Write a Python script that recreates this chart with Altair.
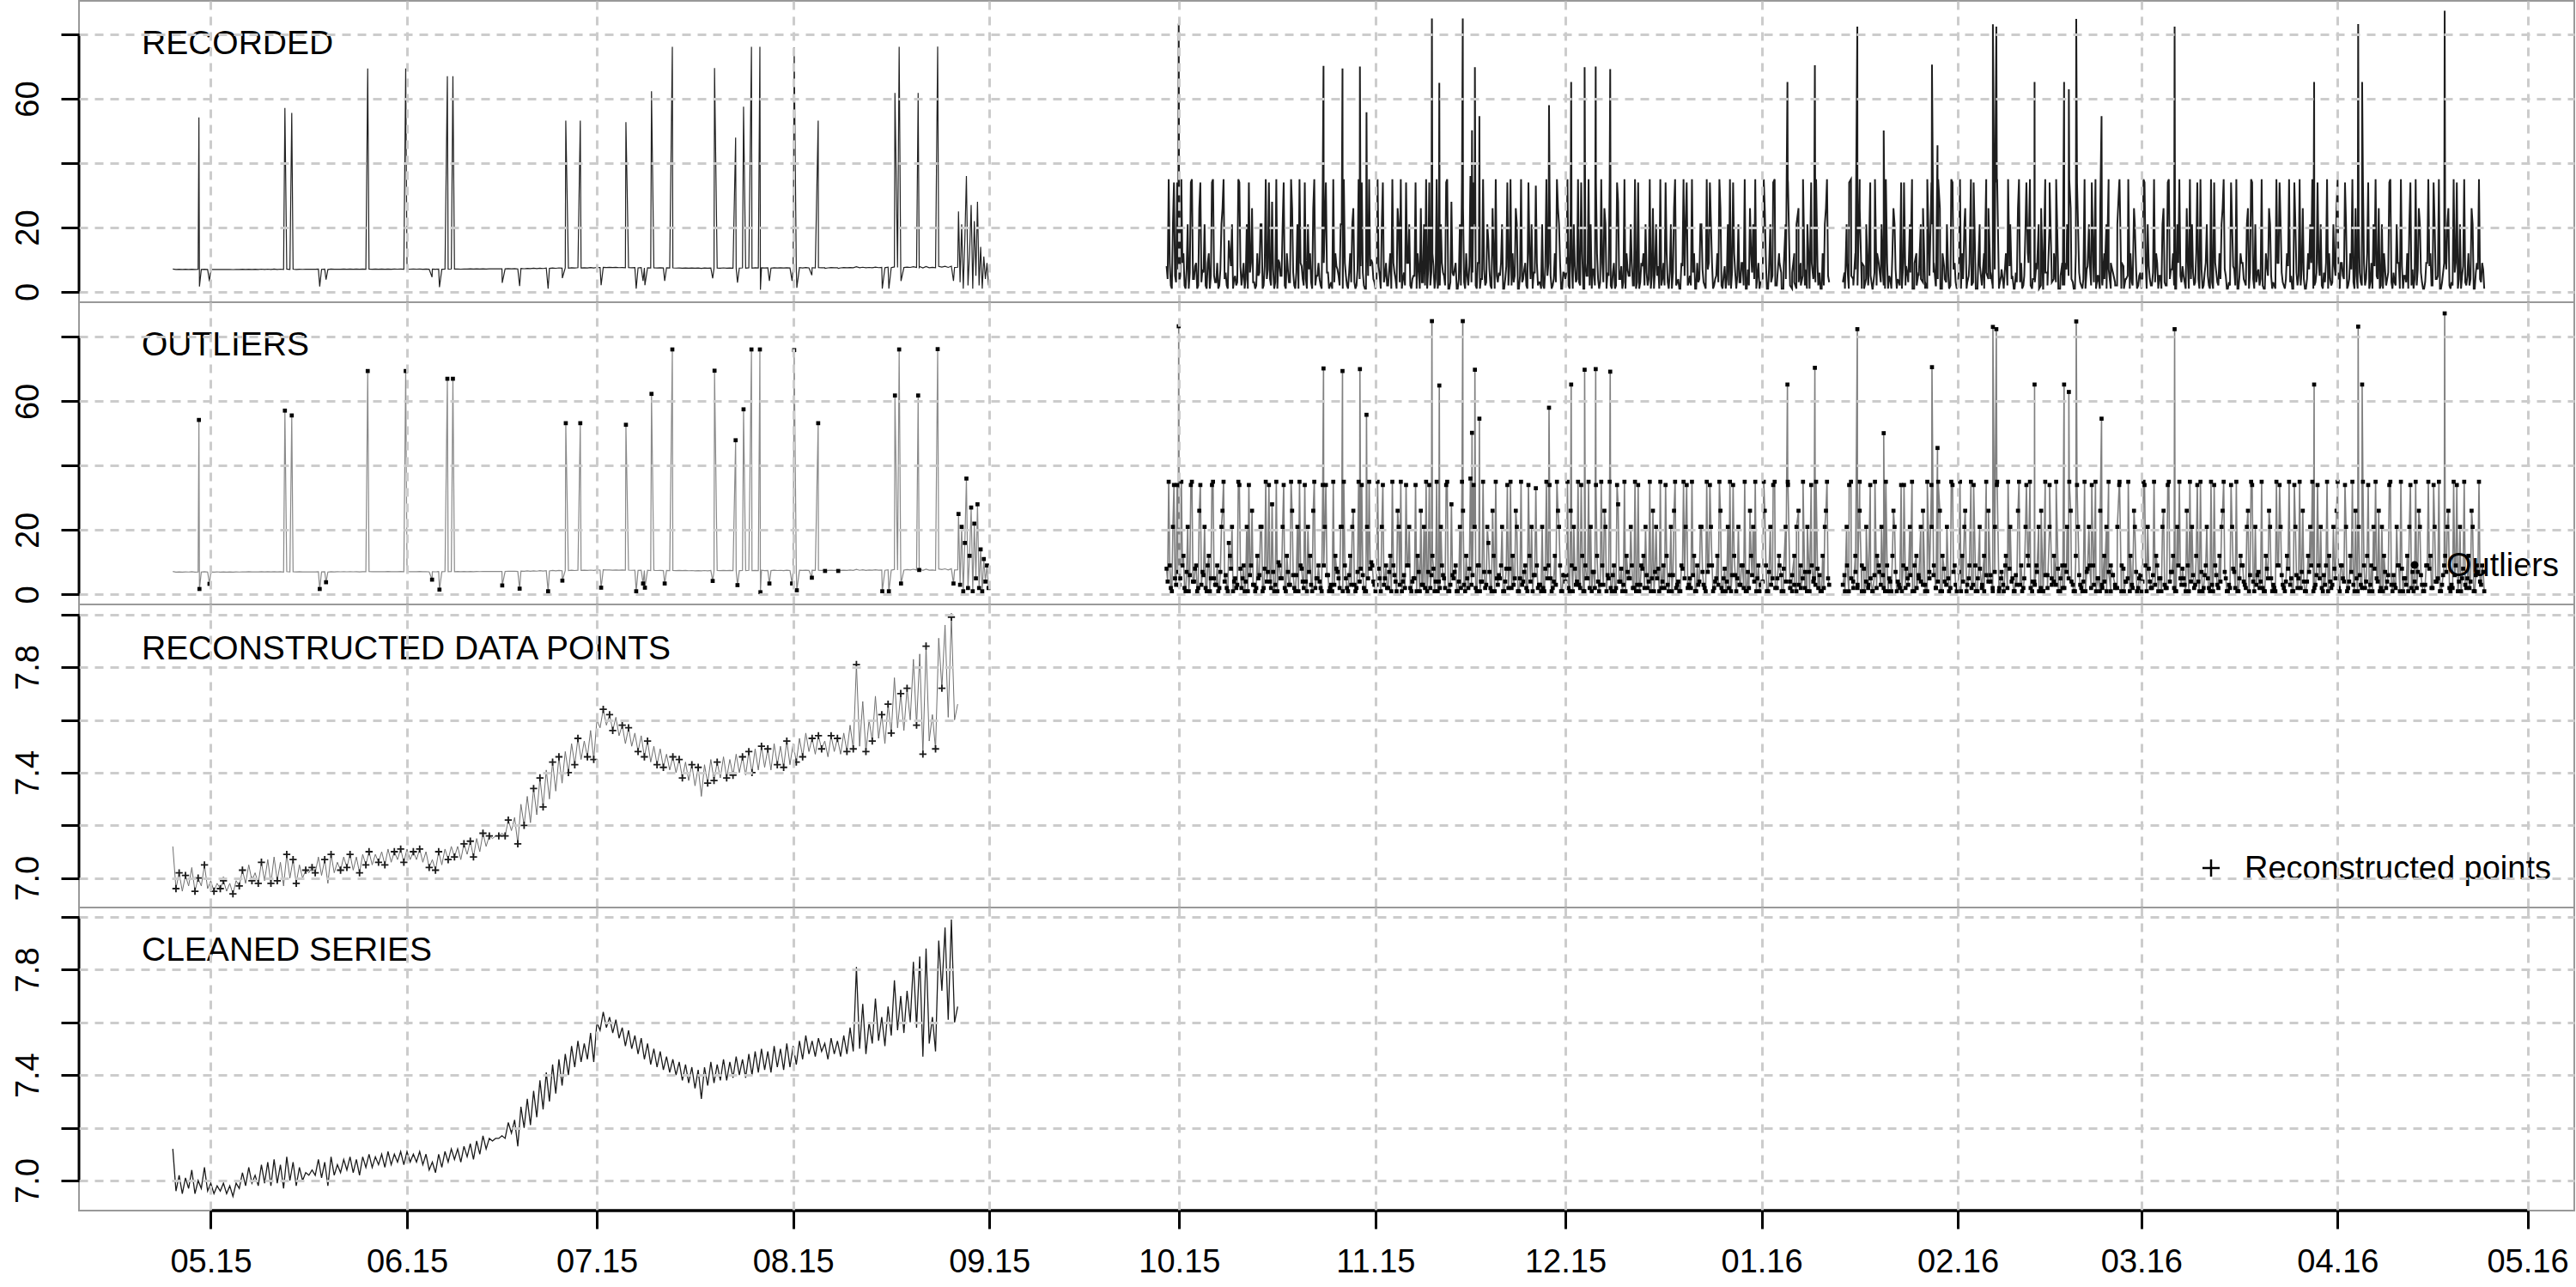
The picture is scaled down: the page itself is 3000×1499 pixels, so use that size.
import json
import altair as alt
import pandas as pd

FONT = "Liberation Sans"

# ---------------- data ----------------
month_ticks = ["2015-05-01", "2015-06-01", "2015-07-01", "2015-08-01", "2015-09-01",
               "2015-10-01", "2015-11-01", "2015-12-01", "2016-01-01", "2016-02-01",
               "2016-03-01", "2016-04-01", "2016-05-01"]
x_range = ["2015-04-10 04:18", "2016-05-08 09:22"]

y_ticks_big = [0, 20, 40, 60, 80]
y_labels_big = [0, 20, 60]
y_ticks_small = [7.0, 7.2, 7.4, 7.6, 7.8, 8.0]
y_labels_small = [7.0, 7.4, 7.8]
y_range_1 = [-3.2, 90.4]
y_range_2 = [-3.1, 90.77]
y_range_3 = [6.8883, 8.0381]
y_range_4 = [6.886, 8.0358]

panel_titles = ["RECORDED", "OUTLIERS", "RECONSTRUCTED DATA POINTS", "CLEANED SERIES"]
legend_outliers = ["Outliers"]
legend_recon = ["Reconstructed points"]

# cleaned series, two readings per day
clean_apr = [7.12, 6.96, 7.02, 6.95, 7.01, 6.97, 7.04, 6.95, 7.00, 6.97, 7.05, 6.96]
clean_may = [6.99, 6.95, 6.98, 6.96, 6.99, 6.95, 6.98, 6.94, 6.99, 6.97, 7.03, 6.98,
             7.05, 6.99, 7.02, 6.98, 7.06, 6.99, 7.07, 6.98, 7.08, 6.99, 7.06, 6.97,
             7.09, 7.00, 7.07, 6.98, 7.05, 7.00, 7.03, 7.02, 7.04, 7.02, 7.08, 7.01,
             7.07, 6.98, 7.09, 7.02, 7.06, 7.03, 7.08, 7.04, 7.09, 7.03, 7.08, 7.02,
             7.09, 7.05, 7.10, 7.05, 7.09, 7.06, 7.10, 7.05, 7.11, 7.06, 7.10, 7.07,
             7.11, 7.06]
clean_jun = [7.11, 7.07, 7.10, 7.07, 7.11, 7.06, 7.10, 7.04, 7.07, 7.03, 7.10, 7.05,
             7.11, 7.07, 7.12, 7.08, 7.12, 7.07, 7.13, 7.09, 7.14, 7.08, 7.15, 7.10,
             7.17, 7.12, 7.16, 7.15, 7.16, 7.16, 7.17, 7.16, 7.22, 7.18, 7.23, 7.13,
             7.28, 7.20, 7.31, 7.21, 7.34, 7.24, 7.38, 7.27, 7.41, 7.30, 7.44, 7.33,
             7.46, 7.36, 7.48, 7.40, 7.51, 7.43, 7.53, 7.45, 7.52, 7.46, 7.56, 7.45]
clean_jul = [7.60, 7.57, 7.64, 7.58, 7.62, 7.56, 7.61, 7.54, 7.58, 7.51, 7.57, 7.50,
             7.55, 7.48, 7.54, 7.46, 7.52, 7.44, 7.50, 7.43, 7.49, 7.42, 7.47, 7.41,
             7.46, 7.40, 7.45, 7.38, 7.44, 7.37, 7.43, 7.35, 7.42, 7.31, 7.43, 7.36,
             7.45, 7.37, 7.44, 7.38, 7.46, 7.38, 7.45, 7.39, 7.47, 7.40, 7.46, 7.39,
             7.48, 7.40, 7.49, 7.41, 7.50, 7.42, 7.49, 7.41, 7.51, 7.43, 7.50, 7.42,
             7.52, 7.43]
clean_aug = [7.51, 7.44, 7.53, 7.46, 7.55, 7.48, 7.53, 7.47, 7.54, 7.49, 7.52, 7.46,
             7.54, 7.48, 7.53, 7.47, 7.55, 7.48, 7.58, 7.49, 7.81, 7.50, 7.67, 7.48,
             7.60, 7.52, 7.69, 7.53, 7.62, 7.51, 7.66, 7.55, 7.76, 7.57, 7.70, 7.56,
             7.72, 7.60, 7.83, 7.58, 7.85, 7.47, 7.88, 7.52, 7.62, 7.49, 7.91, 7.72,
             7.96, 7.61, 7.99, 7.60, 7.66]
clean_spans = [("2015-04-25", "2015-05-01"), ("2015-05-01", "2015-06-01"),
               ("2015-06-01", "2015-07-01"), ("2015-07-01", "2015-08-01"),
               ("2015-08-01", "2015-08-27 12:00")]

recon_idx = [1, 2, 4, 7, 8, 10, 13, 15, 16, 19, 21, 22, 25, 27, 28, 31, 33, 36, 38, 39,
             42, 44, 45, 48, 50, 53, 55, 56, 59, 61, 62, 65, 67, 70, 72, 73, 76, 78, 81,
             83, 84, 87, 89, 92, 94, 95, 98, 100, 103, 105, 106, 109, 111, 114, 116, 117,
             120, 122, 125, 127, 128, 131, 133, 136, 138, 139, 142, 144, 147, 149, 150,
             153, 155, 158, 160, 161, 164, 166, 169, 171, 172, 175, 177, 180, 182, 183,
             186, 188, 191, 193, 194, 197, 199, 202, 204, 205, 208, 210, 213, 215, 216,
             219, 221, 224, 226, 227, 230, 232, 235, 237, 238, 241, 243, 246]

early_spike_times = [
    "2015-04-29 03:00", "2015-04-29 05:00", "2015-04-30 19:00", "2015-05-12 17:00",
    "2015-05-13 19:00", "2015-05-18 05:00", "2015-05-19 05:00", "2015-05-25 19:00",
    "2015-05-31 19:00", "2015-06-04 23:00", "2015-06-06 03:00", "2015-06-07 09:00",
    "2015-06-08 06:00", "2015-06-16 01:00", "2015-06-18 19:00", "2015-06-23 07:00",
    "2015-06-25 13:00", "2015-06-26 02:00", "2015-06-28 09:00", "2015-07-01 16:00",
    "2015-07-05 14:00", "2015-07-07 05:00", "2015-07-08 07:00", "2015-07-08 14:00",
    "2015-07-09 15:00", "2015-07-11 17:00", "2015-07-12 22:00", "2015-07-19 07:00",
    "2015-07-19 14:00", "2015-07-22 22:00", "2015-07-23 05:00", "2015-07-24 04:00",
    "2015-07-25 10:00", "2015-07-26 18:00", "2015-07-26 20:00", "2015-07-28 06:00",
    "2015-07-31 20:00", "2015-08-01 04:00", "2015-08-01 14:00", "2015-08-03 23:00",
    "2015-08-04 23:00", "2015-08-06 01:00", "2015-08-08 03:00", "2015-08-15 02:00",
    "2015-08-16 03:00", "2015-08-17 02:00", "2015-08-17 18:00", "2015-08-18 01:00",
    "2015-08-20 18:00", "2015-08-20 22:00", "2015-08-23 20:00", "2015-08-26 08:00"]
early_spike_vals = [
    54.2, 1.7, 3.3, 57.1, 55.6, 1.7, 3.8, 69.4, 69.4, 4.6, 1.5, 67.0, 67.0, 2.8, 1.8, 1.0,
    4.3, 53.2, 53.2, 2.1, 52.7, 1.0, 3.4, 2.1, 62.3, 3.4, 76.1, 4.2, 69.5, 47.9, 2.9, 57.5,
    76.1, 76.1, 0.7, 3.4, 3.4, 75.9, 1.3, 5.2, 53.2, 7.3, 7.3, 1.0, 1.0, 61.8, 76.1, 3.4,
    61.8, 7.6, 76.2, 3.4]

noisy_vals = [25, 3, 21, 1, 16, 36, 2, 12, 27, 1, 22, 5, 28, 2, 14, 1, 11, 4, 9, 2]
noisy_span = ("2015-08-27 03:00", "2015-09-01 03:00")

# dense recorded period, readings at 00/08/16 h
dense_sep = [8, 35, 2, 21, 5, 34]
dense_oct = [3, 35, 12, 1, 21, 6, 35, 4, 9, 2, 34, 7, 21, 1, 12, 5, 35, 3, 9, 2, 21, 35, 6, 1,
             12, 21, 4, 2, 35, 8, 5, 1, 21, 34, 9, 3, 1, 12, 6, 21, 2, 35, 7, 4, 28, 1, 35, 10,
             5, 21, 2, 12, 3, 35, 6, 1, 21, 35, 8, 2, 4, 21, 12, 1, 35, 5, 9, 2, 34, 21, 6, 1,
             3, 35, 12, 7, 2, 21, 35, 5, 1, 12, 21, 3, 2, 35, 8, 6, 1, 21, 35, 10, 4]
dense_nov = [1, 35, 5, 21, 3, 9, 2, 12, 35, 6, 1, 21, 35, 4, 2, 9, 21, 1, 5, 34, 12, 1, 3, 21,
             35, 7, 2, 12, 1, 35, 4, 21, 6, 2, 35, 1, 28, 5, 9, 1, 21, 35, 3, 12, 2, 36, 6, 21,
             1, 9, 4, 35, 2, 21, 7, 1, 12, 35, 3, 5, 21, 1, 8, 2, 35, 12, 5, 21, 1, 35, 4, 9,
             1, 12, 21, 6, 33, 2, 3, 21, 1, 35, 9, 5, 2, 12, 35, 21, 1, 6]
dense_dec = [4, 35, 1, 9, 21, 3, 35, 2, 12, 1, 5, 35, 21, 7, 2, 12, 1, 35, 3, 21, 6, 35, 1, 9,
             2, 28, 4, 1, 35, 12, 5, 21, 2, 35, 3, 1, 9, 12, 21, 2, 35, 5, 1, 21, 8, 35, 4, 2,
             12, 1, 21, 6, 35, 3, 1, 9, 35, 21, 2, 5, 35, 12, 1, 3, 21, 7, 2, 35, 9, 21, 1, 4,
             12, 35, 2, 5, 1, 21, 35, 6, 12, 1, 21, 3, 9, 35, 1, 2, 12, 21, 35, 5, 1]
dense_jan = [3, 35, 9, 1, 21, 5, 35, 2, 12, 6, 1, 21, 35, 4, 1, 12, 21, 3, 2, 35, 7, 21, 1, 9,
             5, 35, 2, 1, 12, 21, 35, 3, None, None, None, None, None, None, 6, 21, 1, 35,
             4, 12, 2, 35, 9, 1, 21, 3, 5, 1, 35, 12, 7, 21, 2, 35, 1, 4, 12, 21, 1, 3, 34, 9,
             2, 5, 21, 35, 1, 12, 6, 21, 3, 1, 35, 5, 21, 9, 2, 35, 1, 12, 4, 21, 1, 35, 7, 3]
dense_feb = [2, 35, 12, 21, 1, 5, 35, 3, 9, 1, 21, 2, 12, 35, 4, 6, 1, 21, 35, 2, 7, 1, 12, 35,
             21, 5, 1, 3, 35, 9, 2, 21, 12, 35, 1, 4, 9, 21, 2, 1, 35, 6, 21, 3, 12, 35, 1, 5,
             2, 9, 21, 35, 4, 1, 12, 21, 3, 1, 35, 7, 21, 2, 9, 35, 5, 1, 3, 12, 21, 35, 1, 6,
             2, 21, 35, 9, 1, 4, 35, 12, 2, 21, 1, 5]
dense_mar = [1, 35, 9, 21, 4, 2, 35, 12, 1, 5, 21, 3, 2, 35, 7, 12, 1, 21, 35, 3, 5, 1, 9, 35,
             21, 2, 12, 4, 35, 1, 6, 21, 2, 35, 1, 9, 3, 12, 21, 35, 5, 1, 2, 21, 7, 35, 1, 12,
             9, 3, 21, 1, 35, 4, 21, 6, 2, 35, 1, 12, 5, 21, 1, 2, 35, 9, 21, 3, 1, 12, 35, 5,
             1, 21, 2, 35, 7, 4, 1, 12, 21, 35, 2, 6, 9, 21, 1, 3, 35, 12, 2, 21, 5]
dense_apr = [35, 1, 9, 4, 21, 2, 12, 35, 1, 5, 21, 3, 35, 2, 12, 1, 9, 21, 35, 4, 1, 21, 12, 2,
             6, 35, 1, 3, 21, 9, 35, 1, 5, 12, 21, 2, 1, 35, 7, 21, 3, 1, 9, 35, 12, 2, 21, 4,
             35, 1, 6, 12, 21, 2, 3, 35, 9, 1, 21, 5, 35, 2, 12, 4, 21, 1, 9, 35, 3, 7]

# dense recorded period, readings at 04/12/20 h
dense_sep_b = [4, 9, 1, 34, 3, 7]
dense_oct_b = [5, 9, 2, 7, 1, 34, 4, 8, 1, 26, 3, 6, 2, 9, 1, 34, 5, 3, 1, 7, 26, 4, 2, 16,
               8, 1, 5, 3, 34, 2, 9, 4, 1, 6, 26, 3, 2, 5, 21, 1, 8, 4, 34, 2, 7, 3, 1, 9,
               5, 34, 1, 7, 3, 26, 2, 6, 1, 9, 4, 34, 1, 7, 3, 26, 2, 5, 4, 1, 9, 34, 6, 2,
               1, 3, 8, 5, 21, 1, 9, 2, 6, 3, 26, 1, 7, 4, 34, 2, 1, 5, 8, 9, 3]
dense_nov_b = [3, 8, 1, 34, 5, 2, 7, 1, 9, 4, 26, 3, 1, 6, 34, 9, 2, 4, 5, 1, 7, 26, 3, 2,
               1, 34, 6, 8, 4, 1, 2, 9, 5, 34, 1, 3, 6, 7, 1, 4, 2, 26, 1, 5, 8, 3, 34, 2,
               9, 1, 4, 7, 3, 16, 2, 26, 1, 5, 6, 9, 1, 4, 34, 8, 2, 3, 26, 1, 5, 3, 7, 2,
               34, 4, 1, 6, 9, 3, 1, 2, 8, 5, 34, 1, 4, 3, 26, 9, 1, 6]
dense_dec_b = [6, 2, 26, 1, 8, 4, 3, 34, 1, 9, 5, 2, 1, 7, 34, 4, 3, 9, 26, 1, 5, 2, 6, 1,
               34, 4, 8, 3, 1, 7, 5, 9, 2, 1, 34, 3, 8, 2, 6, 4, 1, 26, 7, 5, 1, 2, 9, 34,
               3, 6, 1, 26, 2, 4, 1, 8, 5, 34, 3, 2, 6, 1, 9, 4, 21, 3, 1, 7, 34, 9, 2, 5,
               3, 26, 1, 8, 4, 2, 1, 34, 6, 5, 3, 9, 2, 1, 7, 26, 6, 4, 1, 9, 3]
dense_jan_b = [4, 26, 1, 7, 3, 34, 2, 5, 9, 1, 8, 4, 34, 2, 6, 3, 1, 26, 9, 5, 2, 1, 7, 34,
               4, 3, 8, 6, 1, 2, 26, 5, None, None, None, None, None, None, 3, 1, 9, 34,
               5, 2, 7, 3, 26, 1, 8, 4, 2, 34, 1, 6, 2, 9, 3, 6, 1, 9, 5, 1, 26, 7, 4, 2,
               1, 34, 8, 3, 6, 1, 9, 2, 5, 4, 26, 3, 1, 7, 34, 6, 2, 4, 26, 1, 8, 3, 5, 2,
               34, 9, 1]
dense_feb_b = [7, 1, 4, 26, 3, 9, 2, 34, 1, 5, 8, 3, 1, 6, 26, 4, 2, 7, 34, 1, 5, 3, 9, 2,
               8, 4, 1, 6, 26, 3, 1, 5, 34, 9, 2, 4, 3, 7, 1, 26, 1, 6, 2, 34, 5, 4, 3, 8,
               1, 9, 2, 7, 5, 26, 3, 1, 34, 6, 2, 4, 1, 8, 9, 34, 3, 1, 5, 26, 2, 4, 1, 7,
               9, 6, 3, 2, 34, 1, 8, 4, 5, 1, 3, 26, 7, 2, 6]
dense_mar_b = [4, 34, 1, 8, 2, 6, 3, 9, 5, 1, 26, 2, 34, 4, 7, 2, 1, 9, 5, 8, 3, 26, 1, 4,
               6, 3, 34, 1, 7, 2, 9, 5, 1, 3, 34, 6, 2, 4, 26, 7, 1, 3, 34, 8, 2, 1, 5, 9,
               4, 2, 26, 6, 34, 1, 3, 7, 4, 2, 1, 8, 26, 5, 3, 1, 9, 34, 6, 2, 4, 8, 3, 1,
               34, 6, 5, 2, 26, 1, 4, 7, 9, 1, 3, 34, 5, 2, 6, 9, 1, 4, 3, 8, 26]
dense_apr_b = [2, 9, 5, 34, 1, 4, 7, 3, 26, 1, 6, 2, 9, 4, 34, 3, 1, 8, 5, 26, 2, 1, 7, 4,
               34, 3, 6, 2, 9, 1, 8, 5, 3, 1, 34, 7, 4, 2, 26, 6, 1, 3, 9, 8, 2, 34, 4, 5,
               1, 3, 9, 7, 26, 1, 2, 6, 34, 4, 1, 8, 3, 5, 2, 26, 1, 6, 7, 4, 9, 1]

dense_lists = [dense_sep, dense_oct, dense_nov, dense_dec, dense_jan, dense_feb, dense_mar, dense_apr]
dense_lists_b = [dense_sep_b, dense_oct_b, dense_nov_b, dense_dec_b, dense_jan_b, dense_feb_b,
                 dense_mar_b, dense_apr_b]
dense_spans = [("2015-09-29", "2015-10-01"), ("2015-10-01", "2015-11-01"),
               ("2015-11-01", "2015-12-01"), ("2015-12-01", "2016-01-01"),
               ("2016-01-01", "2016-02-01"), ("2016-02-01", "2016-03-01"),
               ("2016-03-01", "2016-04-01"), ("2016-04-01", "2016-04-24 08:00")]
dense_spans_b = [("2015-09-29 04:00", "2015-10-01 04:00"), ("2015-10-01 04:00", "2015-11-01 04:00"),
                 ("2015-11-01 04:00", "2015-12-01 04:00"), ("2015-12-01 04:00", "2016-01-01 04:00"),
                 ("2016-01-01 04:00", "2016-02-01 04:00"), ("2016-02-01 04:00", "2016-03-01 04:00"),
                 ("2016-03-01 04:00", "2016-04-01 04:00"), ("2016-04-01 04:00", "2016-04-24 12:00")]

dense_spike_times = [
    "2015-09-30 22:00", "2015-10-23 19:00", "2015-10-26 19:00", "2015-10-29 13:00",
    "2015-10-30 14:00", "2015-11-09 22:00", "2015-11-11 02:00", "2015-11-14 19:00",
    "2015-11-16 06:00", "2015-11-16 17:00", "2015-11-17 10:00", "2015-11-28 10:00",
    "2015-12-01 22:00", "2015-12-04 01:00", "2015-12-05 19:00", "2015-12-08 02:00",
    "2016-01-05 02:00", "2016-01-09 10:00", "2016-01-16 03:00", "2016-01-20 07:00",
    "2016-01-27 22:00", "2016-01-28 19:00", "2016-02-06 13:00", "2016-02-07 02:00",
    "2016-02-13 03:00", "2016-02-17 19:00", "2016-02-18 13:00", "2016-02-19 17:00",
    "2016-02-23 17:00", "2016-03-06 06:00", "2016-03-28 07:00", "2016-04-04 06:00",
    "2016-04-04 21:00", "2016-04-17 22:00"]
dense_spike_vals = [
    83.3, 70.2, 69.4, 70.0, 55.8, 84.9, 64.9, 84.9, 50.2, 69.8, 54.6, 58.0, 65.2, 69.8,
    70.0, 69.2, 65.2, 70.4, 82.4, 50.1, 70.6, 45.5, 83.1, 82.4, 65.2, 65.2, 62.9, 84.8,
    54.6, 82.4, 65.2, 83.2, 65.2, 87.3]


# ---------------- build tables ----------------
def ms(s):
    return int(pd.Timestamp(s, tz="UTC").value // 10**6)


def spread(vals, span):
    t0, t1 = ms(span[0]), ms(span[1])
    step = (t1 - t0) / len(vals)
    return [(t0 + round(i * step), v) for i, v in enumerate(vals)]


clean_rows = []
for lst, span in zip([clean_apr, clean_may, clean_jun, clean_jul, clean_aug], clean_spans):
    clean_rows += spread(lst, span)
clean_df = pd.DataFrame(clean_rows, columns=["t", "v"])
recon_df = clean_df.iloc[recon_idx].reset_index(drop=True)

early_spikes = [(ms(t), v) for t, v in zip(early_spike_times, early_spike_vals)]
noisy_rows = spread(noisy_vals, noisy_span)
early_rows = sorted(clean_rows + early_spikes + noisy_rows)
early_df = pd.DataFrame(early_rows, columns=["t", "v"])

dense_rows = []
for lst, span in zip(dense_lists, dense_spans):
    dense_rows += spread(lst, span)
for lst, span in zip(dense_lists_b, dense_spans_b):
    dense_rows += spread(lst, span)
dense_spikes = [(ms(t), v) for t, v in zip(dense_spike_times, dense_spike_vals)]
dense_all = sorted(dense_rows + dense_spikes, key=lambda r: r[0])

rec = []
seg, prev_none = 1, False
for t, v in dense_all:
    if v is None:
        if not prev_none:
            seg += 1
        prev_none = True
        continue
    prev_none = False
    rec.append((t, v, seg))
dense_df = pd.DataFrame(rec, columns=["t", "v", "seg"])

out_rows = early_spikes + noisy_rows + [(t, v) for t, v in dense_all if v is not None]
out_df = pd.DataFrame(out_rows, columns=["t", "v"])

# ---------------- chart ----------------
W = 2906
HEIGHTS = [351, 352, 353, 353]
tick_ms = [ms(m) for m in month_ticks]
x_dom = [ms(x_range[0]), ms(x_range[1])]
GRID = dict(gridColor="#cccccc", gridDash=[10, 8], gridWidth=3, gridOpacity=1)


def x_enc(bottom):
    if bottom:
        ax = alt.Axis(values=tick_ms, format="%m.%y", labelFontSize=38, labelFont=FONT,
                      labelColor="black", labelBaseline="alphabetic", labelAlign="center",
                      labelPadding=50, labelOverlap=False, labelFlush=False,
                      ticks=True, tickSize=21, tickWidth=3, tickColor="black",
                      domain=False, grid=True, title=None, zindex=1, **GRID)
    else:
        ax = alt.Axis(values=tick_ms, labels=False, ticks=False, domain=False, grid=True,
                      title=None, zindex=1, **GRID)
    return alt.X("t:T", scale=alt.Scale(type="utc", domain=x_dom, nice=False), axis=ax)


def y_enc(dom, ticks, labels, fmt=None):
    expr = "indexof(%s, datum.value) >= 0 ? datum.label : ''" % json.dumps(labels)
    kw = dict(values=ticks, labelExpr=expr, labelAngle=270, labelAlign="center",
              labelBaseline="alphabetic", labelPadding=27, labelFontSize=38, labelFont=FONT,
              labelColor="black", labelOverlap=False, tickSize=21, tickWidth=3,
              tickColor="black", domain=False, grid=True, title=None, zindex=1, **GRID)
    if fmt:
        kw["format"] = fmt
    return alt.Y("v:Q", scale=alt.Scale(domain=dom, nice=False, zero=False), axis=alt.Axis(**kw))


def y_axis_line(yenc, ticks):
    df = pd.DataFrame({"v": [ticks[0]], "v2": [ticks[-1]]})
    return alt.Chart(df).mark_rule(color="black", strokeWidth=3).encode(
        x=alt.value(0), y=yenc, y2="v2:Q")


def title_layer(text, ybase):
    df = pd.DataFrame({"label": [text]})
    return alt.Chart(df).mark_text(align="left", baseline="alphabetic", font=FONT,
                                   fontSize=39, color="black").encode(
        x=alt.value(73), y=alt.value(ybase), text="label:N")


# Panel 1: recorded
y1 = y_enc(y_range_1, y_ticks_big, y_labels_big)
p1_early = alt.Chart(early_df).mark_line(color="#222222", strokeWidth=1.2).encode(
    x=x_enc(False), y=y1)
p1_dense = alt.Chart(dense_df).mark_line(color="#1e1e1e", strokeWidth=2.0).encode(
    x=x_enc(False), y=y1, detail="seg:N")
left_pad = alt.Chart(pd.DataFrame({"label": [""]})).mark_rule(color="white", strokeWidth=1).encode(
    x=alt.value(-90), x2=alt.value(-89), y=alt.value(5), y2=alt.value(6))
p1 = alt.layer(p1_early, p1_dense, y_axis_line(y1, y_ticks_big), title_layer(panel_titles[0], 62),
               left_pad).properties(width=W, height=HEIGHTS[0])

# Panel 2: outliers
y2 = y_enc(y_range_2, y_ticks_big, y_labels_big)
p2_early = alt.Chart(early_df).mark_line(color="#8a8a8a", strokeWidth=1.2).encode(
    x=x_enc(False), y=y2)
p2_dense = alt.Chart(dense_df).mark_line(color="#808080", strokeWidth=1.6).encode(
    x=x_enc(False), y=y2, detail="seg:N")
p2_pts = alt.Chart(out_df).mark_square(color="black", size=22, opacity=1).encode(
    x=x_enc(False), y=y2)
leg_df2 = pd.DataFrame({"label": legend_outliers})
p2_leg_dot = alt.Chart(leg_df2).mark_circle(color="black", size=80, opacity=1).encode(
    x=alt.value(2720), y=alt.value(306))
p2_leg_txt = alt.Chart(leg_df2).mark_text(align="left", baseline="alphabetic", font=FONT,
                                          fontSize=38, color="black").encode(
    x=alt.value(2757), y=alt.value(319), text="label:N")
p2 = alt.layer(p2_early, p2_dense, p2_pts, y_axis_line(y2, y_ticks_big),
               title_layer(panel_titles[1], 62), p2_leg_dot, p2_leg_txt
               ).properties(width=W, height=HEIGHTS[1])

# Panel 3: reconstructed
PLUS = "M-1,0L1,0M0,-1L0,1"
y3 = y_enc(y_range_3, y_ticks_small, y_labels_small, ".1f")
p3_line = alt.Chart(clean_df).mark_line(color="#707070", strokeWidth=1.0).encode(
    x=x_enc(False), y=y3)
p3_pts = alt.Chart(recon_df).mark_point(shape=PLUS, filled=False, color="#1a1a1a",
                                        strokeWidth=1.8, size=70, opacity=1).encode(
    x=x_enc(False), y=y3)
leg_df3 = pd.DataFrame({"label": legend_recon})
p3_leg_sym = alt.Chart(leg_df3).mark_point(shape=PLUS, filled=False, color="black",
                                           strokeWidth=2.5, size=400, opacity=1).encode(
    x=alt.value(2483), y=alt.value(307))
p3_leg_txt = alt.Chart(leg_df3).mark_text(align="left", baseline="alphabetic", font=FONT,
                                          fontSize=38, color="black").encode(
    x=alt.value(2522), y=alt.value(320), text="label:N")
p3 = alt.layer(p3_line, p3_pts, y_axis_line(y3, y_ticks_small), title_layer(panel_titles[2], 64),
               p3_leg_sym, p3_leg_txt).properties(width=W, height=HEIGHTS[2])

# Panel 4: cleaned
y4 = y_enc(y_range_4, y_ticks_small, y_labels_small, ".1f")
p4_line = alt.Chart(clean_df).mark_line(color="#1a1a1a", strokeWidth=1.3).encode(
    x=x_enc(True), y=y4)
xaxis_df = pd.DataFrame({"t": [tick_ms[0]], "t2": [tick_ms[-1]]})
p4_xline = alt.Chart(xaxis_df).mark_rule(color="black", strokeWidth=3.5).encode(
    x=x_enc(True), x2="t2:T", y=alt.value(HEIGHTS[3]))
p4 = alt.layer(p4_line, y_axis_line(y4, y_ticks_small), p4_xline,
               title_layer(panel_titles[3], 62)).properties(width=W, height=HEIGHTS[3])

chart = alt.vconcat(p1, p2, p3, p4, spacing=0, bounds="flush").properties(
    padding={"left": 0, "top": 0, "right": 0, "bottom": 0}, background="white"
).configure_view(stroke="#999999", strokeWidth=2)

chart.save("out.html", embed_options={"renderer": "svg", "actions": False})
